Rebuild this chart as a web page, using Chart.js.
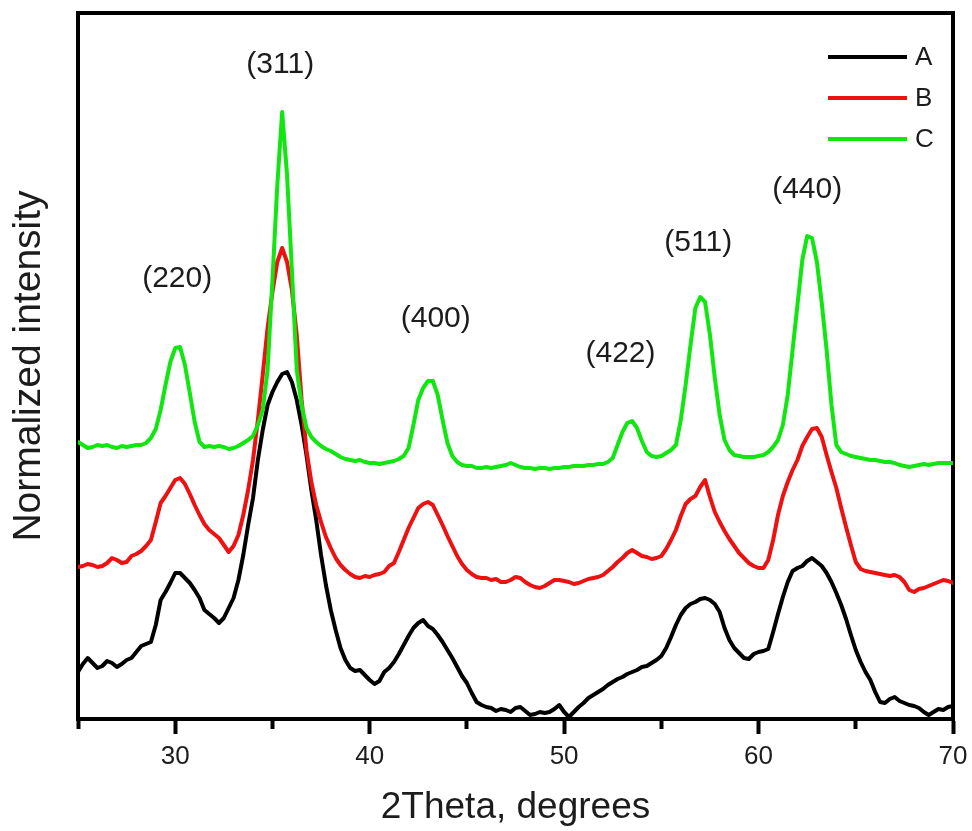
<!DOCTYPE html>
<html>
<head>
<meta charset="utf-8">
<title>XRD patterns A, B, C</title>
<script src="https://cdn.jsdelivr.net/npm/chart.js@4.4.1/dist/chart.umd.min.js"></script>
<style>
  html, body { margin: 0; padding: 0; background: #ffffff; }
  #wrap { width: 972px; height: 831px; position: relative; }
</style>
</head>
<body>
<div id="wrap"><canvas id="xrd"></canvas></div>
<script>
// Diffraction angle grid (degrees 2θ)
const twoTheta = [
  25.00, 25.25, 25.50, 25.75, 26.00, 26.25, 26.50, 26.75, 27.00, 27.25, 27.50, 27.75,
  28.00, 28.25, 28.50, 28.75, 29.00, 29.25, 29.50, 29.75, 30.00, 30.25, 30.50, 30.75,
  31.00, 31.25, 31.50, 31.75, 32.00, 32.25, 32.50, 32.75, 33.00, 33.25, 33.50, 33.75,
  34.00, 34.25, 34.50, 34.75, 35.00, 35.25, 35.50, 35.75, 36.00, 36.25, 36.50, 36.75,
  37.00, 37.25, 37.50, 37.75, 38.00, 38.25, 38.50, 38.75, 39.00, 39.25, 39.50, 39.75,
  40.00, 40.25, 40.50, 40.75, 41.00, 41.25, 41.50, 41.75, 42.00, 42.25, 42.50, 42.75,
  43.00, 43.25, 43.50, 43.75, 44.00, 44.25, 44.50, 44.75, 45.00, 45.25, 45.50, 45.75,
  46.00, 46.25, 46.50, 46.75, 47.00, 47.25, 47.50, 47.75, 48.00, 48.25, 48.50, 48.75,
  49.00, 49.25, 49.50, 49.75, 50.00, 50.25, 50.50, 50.75, 51.00, 51.25, 51.50, 51.75,
  52.00, 52.25, 52.50, 52.75, 53.00, 53.25, 53.50, 53.75, 54.00, 54.25, 54.50, 54.75,
  55.00, 55.25, 55.50, 55.75, 56.00, 56.25, 56.50, 56.75, 57.00, 57.25, 57.50, 57.75,
  58.00, 58.25, 58.50, 58.75, 59.00, 59.25, 59.50, 59.75, 60.00, 60.25, 60.50, 60.75,
  61.00, 61.25, 61.50, 61.75, 62.00, 62.25, 62.50, 62.75, 63.00, 63.25, 63.50, 63.75,
  64.00, 64.25, 64.50, 64.75, 65.00, 65.25, 65.50, 65.75, 66.00, 66.25, 66.50, 66.75,
  67.00, 67.25, 67.50, 67.75, 68.00, 68.25, 68.50, 68.75, 69.00, 69.25, 69.50, 69.75,
  70.00
];

// Normalized intensities (offset-stacked, arbitrary units)
const sampleA = [
  47, 55, 61, 56,   51, 53, 58, 56,   52, 55, 59, 61,   67, 73, 75, 77,
  94, 119, 127, 136,   146, 146, 141, 136,   129, 121, 109, 105,   101, 96, 101, 111,
  121, 139, 164, 194,   221, 259, 289, 314,   327, 337, 345, 347,   337, 319, 294, 264,
  229, 199, 164, 134,   109, 89, 71, 59,   51, 48, 49, 44,   39, 35, 38, 47,
  51, 57, 65, 74,   83, 91, 96, 99,   93, 90, 84, 77,   69, 61, 52, 43,
  36, 26, 17, 14,   12, 11, 8, 10,   9, 7, 11, 12,   8, 4, 5, 7,
  6, 7, 10, 14,   7, 2, 7, 12,   16, 21, 24, 27,   30, 34, 37, 40,
  42, 45, 47, 49,   52, 53, 56, 59,   63, 71, 82, 94,   104, 111, 115, 117,
  120, 121, 119, 115,   107, 91, 79, 71,   66, 61, 60, 65,   67, 68, 70, 87,
  105, 122, 137, 148,   151, 153, 158, 161,   157, 153, 146, 137,   126, 114, 100, 84,
  69, 57, 47, 39,   27, 17, 16, 20,   22, 18, 16, 14,   13, 11, 7, 4,
  7, 10, 9, 12,   13
];

const sampleB = [
  152, 153, 155, 154,   152, 153, 156, 161,   159, 156, 157, 163,   165, 168, 173, 179,
  197, 216, 223, 231,   239, 241, 235, 225,   214, 204, 195, 189,   185, 181, 174, 167,
  173, 184, 204, 229,   259, 299, 344, 391,   427, 457, 471, 457,   429, 384, 319, 269,
  237, 214, 197, 182,   171, 161, 154, 149,   145, 142, 141, 143,   142, 144, 145, 147,
  153, 156, 167, 179,   191, 201, 211, 215,   217, 214, 204, 194,   183, 173, 163, 155,
  149, 145, 142, 141,   141, 139, 140, 137,   137, 139, 142, 141,   137, 134, 132, 131,
  133, 136, 139, 139,   138, 137, 135, 136,   138, 140, 141, 142,   144, 148, 152, 157,
  161, 166, 169, 166,   163, 162, 160, 161,   163, 170, 179, 189,   203, 215, 220, 223,
  232, 239, 222, 207,   197, 188, 180, 173,   166, 161, 156, 153,   151, 151, 159, 179,
  204, 223, 237, 249,   259, 273, 282, 290,   291, 282, 264, 247,   231, 211, 192, 174,
  157, 150, 148, 147,   146, 145, 144, 143,   144, 142, 137, 129,   127, 130, 131, 133,
  135, 137, 139, 138,   136
];

const sampleC = [
  277, 274, 271, 272,   274, 273, 274, 272,   271, 273, 272, 273,   274, 274, 276, 281,
  290, 309, 334, 357,   371, 372, 354, 326,   297, 277, 272, 273,   272, 273, 272, 270,
  271, 273, 276, 279,   283, 294, 309, 349,   439, 534, 607, 544,   449, 349, 314, 291,
  282, 277, 273, 270,   268, 265, 262, 260,   259, 258, 259, 257,   256, 256, 255, 256,
  257, 258, 260, 263,   271, 294, 319, 331,   338, 338, 324, 299,   276, 263, 257, 254,
  253, 253, 251, 251,   252, 251, 252, 253,   254, 256, 254, 252,   251, 251, 250, 251,
  251, 250, 251, 251,   252, 252, 253, 253,   253, 254, 254, 255,   255, 257, 261, 274,
  287, 296, 298, 291,   278, 267, 263, 262,   263, 266, 269, 274,   299, 334, 374, 411,
  422, 417, 384, 341,   304, 279, 269, 264,   263, 262, 262, 262,   263, 264, 267, 272,
  279, 294, 324, 369,   414, 459, 483, 481,   457, 416, 369, 314,   274, 267, 265, 263,
  262, 261, 260, 259,   259, 258, 257, 257,   256, 254, 253, 252,   253, 254, 255, 254,
  255, 256, 256, 256,   256
];

const seriesNames = ['A', 'B', 'C'];
const seriesColors = ['#000000', '#ee1111', '#11e611'];

// Miller-index annotations of the spinel reflections
const hklLabels = ['(220)', '(311)', '(400)', '(422)', '(511)', '(440)'];
const hklTheta  = [30.1, 35.4, 43.4, 52.9, 56.9, 62.5];
const hklLevel  = [440, 654, 400, 365, 476, 529];

// Labelled x ticks
const xTickLabels = [30, 40, 50, 60, 70];

const FONT = '"Liberation Sans", Arial, Helvetica, sans-serif';
const TEXT = '#1c1c1c';

const makeSeries = (vals) => twoTheta.map((t, i) => ({ x: t, y: vals[i] }));

// Top and right frame lines of the plot box
const frameBox = {
  id: 'frameBox',
  beforeDatasetsDraw(chart) {
    const { ctx, chartArea: a } = chart;
    ctx.save();
    ctx.strokeStyle = '#000';
    ctx.lineWidth = 4;
    ctx.beginPath();
    ctx.moveTo(a.left - 2, a.top);
    ctx.lineTo(a.right, a.top);
    ctx.lineTo(a.right, a.bottom + 2);
    ctx.stroke();
    ctx.restore();
  }
};

// Reflection labels placed at (2θ, intensity) positions
const hklText = {
  id: 'hklText',
  afterDatasetsDraw(chart) {
    const { ctx, scales: { x, y } } = chart;
    ctx.save();
    ctx.font = '30px ' + FONT;
    ctx.fillStyle = TEXT;
    ctx.textAlign = 'center';
    ctx.textBaseline = 'middle';
    hklLabels.forEach((t, i) => {
      ctx.fillText(t, x.getPixelForValue(hklTheta[i]), y.getPixelForValue(hklLevel[i]));
    });
    ctx.restore();
  }
};

// Line key in the upper right corner of the plot
const lineKey = {
  id: 'lineKey',
  afterDraw(chart) {
    const { ctx, chartArea: a } = chart;
    ctx.save();
    ctx.font = '26px ' + FONT;
    ctx.textAlign = 'left';
    ctx.textBaseline = 'middle';
    chart.data.datasets.forEach((ds, i) => {
      const yy = a.top + 44 + i * 41;
      const x1 = a.right - 125, x2 = a.right - 46;
      ctx.strokeStyle = ds.borderColor;
      ctx.lineWidth = 4;
      ctx.beginPath();
      ctx.moveTo(x1, yy);
      ctx.lineTo(x2, yy);
      ctx.stroke();
      ctx.fillStyle = TEXT;
      ctx.fillText(ds.label, x2 + 8, yy + 1);
    });
    ctx.restore();
  }
};

new Chart(document.getElementById('xrd'), {
  type: 'line',
  data: {
    datasets: [
      { label: seriesNames[0], data: makeSeries(sampleA), borderColor: seriesColors[0], order: 3 },
      { label: seriesNames[1], data: makeSeries(sampleB), borderColor: seriesColors[1], order: 2 },
      { label: seriesNames[2], data: makeSeries(sampleC), borderColor: seriesColors[2], order: 1 }
    ]
  },
  options: {
    responsive: true,
    maintainAspectRatio: false,
    animation: false,
    devicePixelRatio: 1,
    layout: { padding: { top: 13, right: 19, left: 0, bottom: 0 } },
    elements: {
      point: { radius: 0, hoverRadius: 0 },
      line: { borderWidth: 4, tension: 0, fill: false, borderJoinStyle: 'round', borderCapStyle: 'round' }
    },
    plugins: {
      legend: { display: false },
      tooltip: { enabled: false }
    },
    scales: {
      x: {
        type: 'linear',
        min: 25,
        max: 70,
        ticks: {
          stepSize: 5,
          padding: 7,
          color: TEXT,
          font: { family: FONT, size: 26 },
          maxRotation: 0,
          autoSkip: false,
          callback: (v) => xTickLabels.includes(v) ? String(v) : ''
        },
        grid: {
          display: true,
          drawOnChartArea: false,
          drawTicks: true,
          tickLength: 15,
          tickWidth: 4,
          tickColor: '#000',
          tickBorderDash: (c) => (c.tick && !xTickLabels.includes(c.tick.value)) ? [8, 60] : []
        },
        border: { display: true, color: '#000', width: 4 },
        title: {
          display: true,
          text: '2Theta, degrees',
          color: TEXT,
          font: { family: FONT, size: 37 },
          padding: { top: 0, bottom: 1 }
        },
        afterFit: (s) => { s.height = 112; s.paddingLeft = 0; s.paddingRight = 0; }
      },
      y: {
        min: 0,
        max: 706,
        ticks: { display: false },
        grid: { display: false, drawTicks: false },
        border: { display: true, color: '#000', width: 4 },
        title: {
          display: true,
          text: 'Normalized intensity',
          color: TEXT,
          font: { family: FONT, size: 39 },
          padding: { top: 6, bottom: 0 }
        },
        afterFit: (s) => { s.width = 78; }
      }
    }
  },
  plugins: [frameBox, hklText, lineKey]
});
</script>
</body>
</html>
